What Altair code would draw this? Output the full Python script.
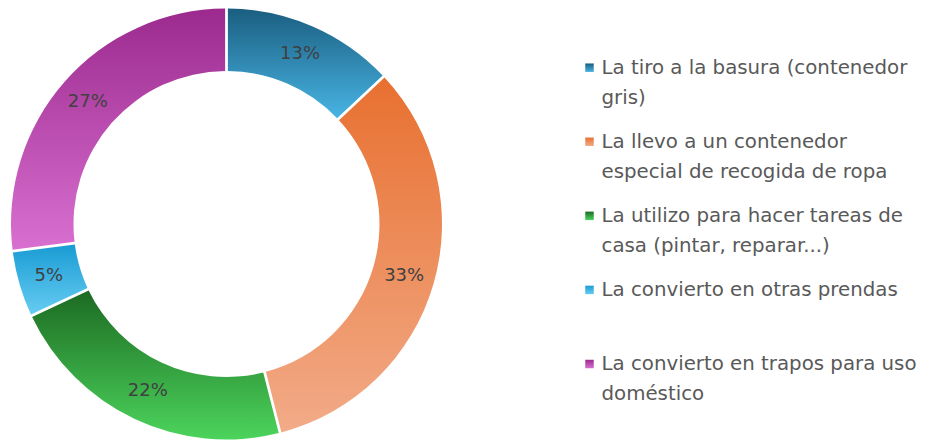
import altair as alt
import pandas as pd

categories = [
    "La tiro a la basura (contenedor gris)",
    "La llevo a un contenedor especial de recogida de ropa",
    "La utilizo para hacer tareas de casa (pintar, reparar...)",
    "La convierto en otras prendas",
    "La convierto en trapos para uso doméstico",
]
legend_labels = [
    "La tiro a la basura (contenedor|gris)",
    "La llevo a un contenedor|especial de recogida de ropa",
    "La utilizo para hacer tareas de|casa (pintar, reparar...)",
    "La convierto en otras prendas",
    "La convierto en trapos para uso|doméstico",
]
values = [13, 33, 22, 5, 27]
pct_labels = ["13%", "33%", "22%", "5%", "27%"]
top_colors = ["#1a5e80", "#e87030", "#1c6a22", "#1a9cd4", "#9c2a8e"]
bottom_colors = ["#48b4e4", "#f2ab88", "#4cd45c", "#66ccf2", "#d870d0"]

df = pd.DataFrame({
    "cat": categories,
    "legend": legend_labels,
    "value": values,
    "pct": pct_labels,
    "order": list(range(len(categories))),
})

CX, CY = 218.5, 216
R_OUT, R_IN = 215.5, 153
R_LABEL = 185
FONT = "DejaVu Sans"

base = (
    alt.Chart(df)
    .transform_window(end="sum(value)", sort=[alt.SortField("order")])
    .transform_calculate(start="datum.end - datum.value", mid="datum.end - datum.value/2")
)
theta_scale = alt.Scale(domain=[0, 100])
yscale = alt.Scale(range=[59.7, 356], padding=0)

layers = []
for i, c in enumerate(categories):
    grad = alt.Gradient(
        gradient="linear",
        stops=[alt.GradientStop(color=top_colors[i], offset=0),
               alt.GradientStop(color=bottom_colors[i], offset=1)],
        x1=0, x2=0, y1=0, y2=1,
    )
    sub = base.transform_filter(alt.datum.order == i)
    layers.append(
        sub.mark_arc(fill=grad, padAngle=0.0105,
                     outerRadius=R_OUT, innerRadius=R_IN).encode(
            theta=alt.Theta("start:Q", scale=theta_scale),
            theta2="end:Q",
            x=alt.value(CX), y=alt.value(CY),
        )
    )
    layers.append(
        sub.mark_square(fill=grad, size=72, opacity=1, stroke=None).encode(
            x=alt.value(581.5),
            y=alt.Y("cat:N", sort=categories, axis=None, scale=yscale),
        )
    )

pct_text = base.mark_text(
    radius=R_LABEL, fontSize=18, font=FONT, color="#404040"
).encode(
    theta=alt.Theta("mid:Q", scale=theta_scale),
    text="pct:N",
    x=alt.value(CX), y=alt.value(CY),
)

legend_text = alt.Chart(df).mark_text(
    align="left", baseline="alphabetic", dy=6, lineBreak="|", lineHeight=30,
    fontSize=19.8, font=FONT, color="#595959",
).encode(
    x=alt.value(593.5),
    y=alt.Y("cat:N", sort=categories, axis=None, scale=yscale),
    text="legend:N",
)

chart = alt.layer(*layers, pct_text, legend_text).properties(
    width=913, height=432, padding=0
).configure_view(stroke=None)

chart.save("out.html", embed_options={"renderer": "svg", "actions": False})
